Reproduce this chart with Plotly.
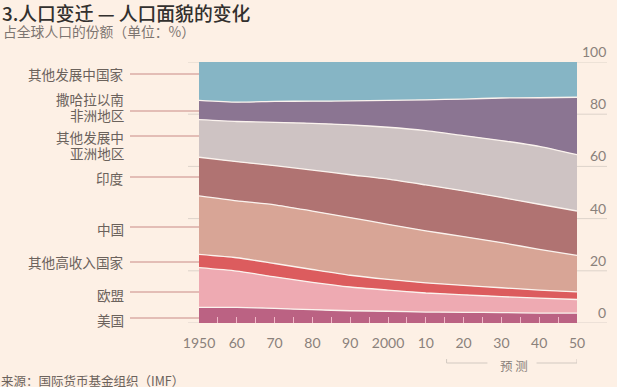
import plotly.graph_objects as go

# ---------------- data ----------------
years = [1950, 1960, 1970, 1980, 1990, 2000, 2010, 2020, 2030, 2040, 2050]
series_names = ["美国", "欧盟", "其他高收入国家", "中国", "印度",
                "其他发展中亚洲地区", "撒哈拉以南非洲地区", "其他发展中国家"]
us          = [6.0, 6.0, 5.6, 5.1, 4.7, 4.5, 4.2, 4.1, 4.0, 3.8, 3.8]
eu          = [15.2, 13.9, 12.1, 10.5, 9.1, 8.1, 7.3, 6.7, 6.1, 5.7, 5.2]
other_hi    = [5.1, 5.1, 5.1, 4.9, 4.5, 4.1, 3.9, 3.6, 3.4, 3.1, 2.9]
china       = [22.4, 21.8, 22.5, 22.4, 22.1, 21.1, 19.9, 18.7, 17.3, 15.6, 14.0]
india       = [14.8, 15.0, 15.0, 15.7, 16.4, 17.3, 17.6, 17.5, 17.3, 17.3, 17.0]
other_asia  = [14.4, 15.4, 16.6, 17.9, 19.1, 19.9, 20.8, 21.2, 21.8, 22.2, 21.6]
ssa         = [7.4, 7.4, 8.0, 8.5, 9.2, 10.3, 11.8, 14.0, 16.3, 18.6, 22.0]
others      = [14.7, 15.4, 15.1, 15.0, 14.9, 14.7, 14.5, 14.2, 13.8, 13.7, 13.5]
series_values = [us, eu, other_hi, china, india, other_asia, ssa, others]

tick_vals = list(range(1950, 2051, 5))
tick_text = ["1950", "", "60", "", "70", "", "80", "", "90", "", "2000", "",
             "10", "", "20", "", "30", "", "40", "", "50"]
y_ticks = [0, 20, 40, 60, 80, 100]

left_labels = [["其他发展中国家"], ["撒哈拉以南", "非洲地区"], ["其他发展中", "亚洲地区"], ["印度"],
               ["中国"], ["其他高收入国家"], ["欧盟"], ["美国"]]
forecast_label = "预 测"

# ---------------- style ----------------
colors = ["#bb6283", "#eeaab2", "#dc5c5e", "#d8a596", "#b07372",
          "#cec3c3", "#8b7592", "#86b5c5"]
BG = "#fdf0e5"
W, H = 617, 387
L, R, T, B = 199, 40, 62, 64
PW, PH = W - L - R, H - T - B
FONT = "Lato, Noto Sans CJK SC, sans-serif"
CJK = "Noto Sans CJK SC, sans-serif"


def px_x(px):
    return (px - L) / PW


def px_y(py):
    return (H - B - py) / PH


fig = go.Figure()
for i, (name, vals) in enumerate(zip(series_names, series_values)):
    top = i == len(series_names) - 1
    fig.add_trace(go.Scatter(
        x=years, y=vals, name=name, stackgroup="one", mode="lines",
        line=dict(color="#fbf3ee" if not top else colors[i],
                  width=1.3 if not top else 0, shape="spline", smoothing=0.6),
        fillcolor=colors[i], hoverinfo="skip",
    ))

shapes = []
# gridlines (behind areas), extending beyond plot
for v in y_ticks:
    shapes.append(dict(type="line", xref="paper", yref="y", x0=px_x(188), x1=px_x(607),
                       y0=v, y1=v, line=dict(color="#ddd3ca", width=1), layer="below"))

annotations = []
for v in y_ticks:
    annotations.append(dict(xref="paper", yref="y", x=px_x(608), y=v, text=str(v),
                            showarrow=False, xanchor="right", yanchor="bottom",
                            font=dict(family=FONT, size=14, color="#8a817b")))

# left labels with leader lines
label_text_y = [[74], [99, 115], [137, 153], [178], [229], [262], [295], [320]]
leader_y = [74, 111, 136, 177, 227, 262, 292, 318]
for lines, tys, ly in zip(left_labels, label_text_y, leader_y):
    for txt, ty in zip(lines, tys):
        annotations.append(dict(xref="paper", yref="paper", x=px_x(126), y=px_y(ty), text=txt,
                                showarrow=False, xanchor="right", yanchor="middle", align="right",
                                font=dict(family=CJK, size=13.6, color="#6b625c")))
    shapes.append(dict(type="line", xref="paper", yref="paper", x0=px_x(130), x1=0,
                       y0=px_y(ly), y1=px_y(ly), line=dict(color="#c98a86", width=1)))

# forecast bracket
by, bt = px_y(363), px_y(359)
bcol = "#d2c9c1"
shapes += [
    dict(type="line", xref="x", yref="paper", x0=2015.5, x1=2026.3, y0=by, y1=by, line=dict(color=bcol, width=1)),
    dict(type="line", xref="x", yref="paper", x0=2039.3, x1=2050, y0=by, y1=by, line=dict(color=bcol, width=1)),
    dict(type="line", xref="x", yref="paper", x0=2015.5, x1=2015.5, y0=by, y1=bt, line=dict(color=bcol, width=1)),
    dict(type="line", xref="x", yref="paper", x0=2050, x1=2050, y0=by, y1=bt, line=dict(color=bcol, width=1)),
]
annotations.append(dict(xref="x", yref="paper", x=2033.3, y=px_y(365), text=forecast_label,
                        showarrow=False, xanchor="center", yanchor="middle",
                        font=dict(family=CJK, size=12.5, color="#8a817b")))

# titles and source
annotations += [
    dict(xref="paper", yref="paper", x=px_x(0), y=px_y(13), text="3.人口变迁 — 人口面貌的变化",
         showarrow=False, xanchor="left", yanchor="middle",
         font=dict(family=CJK, size=18.8, color="#33302e", weight=500)),
    dict(xref="paper", yref="paper", x=px_x(1), y=px_y(30.5), text="占全球人口的份额（单位：%）",
         showarrow=False, xanchor="left", yanchor="middle",
         font=dict(family=CJK, size=13.8, color="#7d7570")),
    dict(xref="paper", yref="paper", x=px_x(-1), y=px_y(380.5), text="来源：国际货币基金组织（IMF）",
         showarrow=False, xanchor="left", yanchor="middle",
         font=dict(family=CJK, size=12.5, color="#6b625c")),
]

fig.update_layout(
    width=W, height=H, margin=dict(l=L, r=R, t=T, b=B),
    paper_bgcolor=BG, plot_bgcolor=BG, showlegend=False,
    shapes=shapes, annotations=annotations,
    xaxis=dict(range=[1950, 2050], tickvals=tick_vals, ticktext=tick_text,
               ticks="inside", ticklen=6, tickcolor="#f0b8c8", tickwidth=1,
               showgrid=False, zeroline=False, showline=False, ticklabelstandoff=10,
               tickfont=dict(family=FONT, size=14, color="#8a817b")),
    yaxis=dict(range=[0, 100], showgrid=False, zeroline=False, showticklabels=False,
               showline=False),
)

fig.write_html("out.html", config={"displayModeBar": False},
               post_script="document.body.style.margin='0';document.body.style.overflow='hidden';"
                           "document.body.style.background='" + BG + "';")
